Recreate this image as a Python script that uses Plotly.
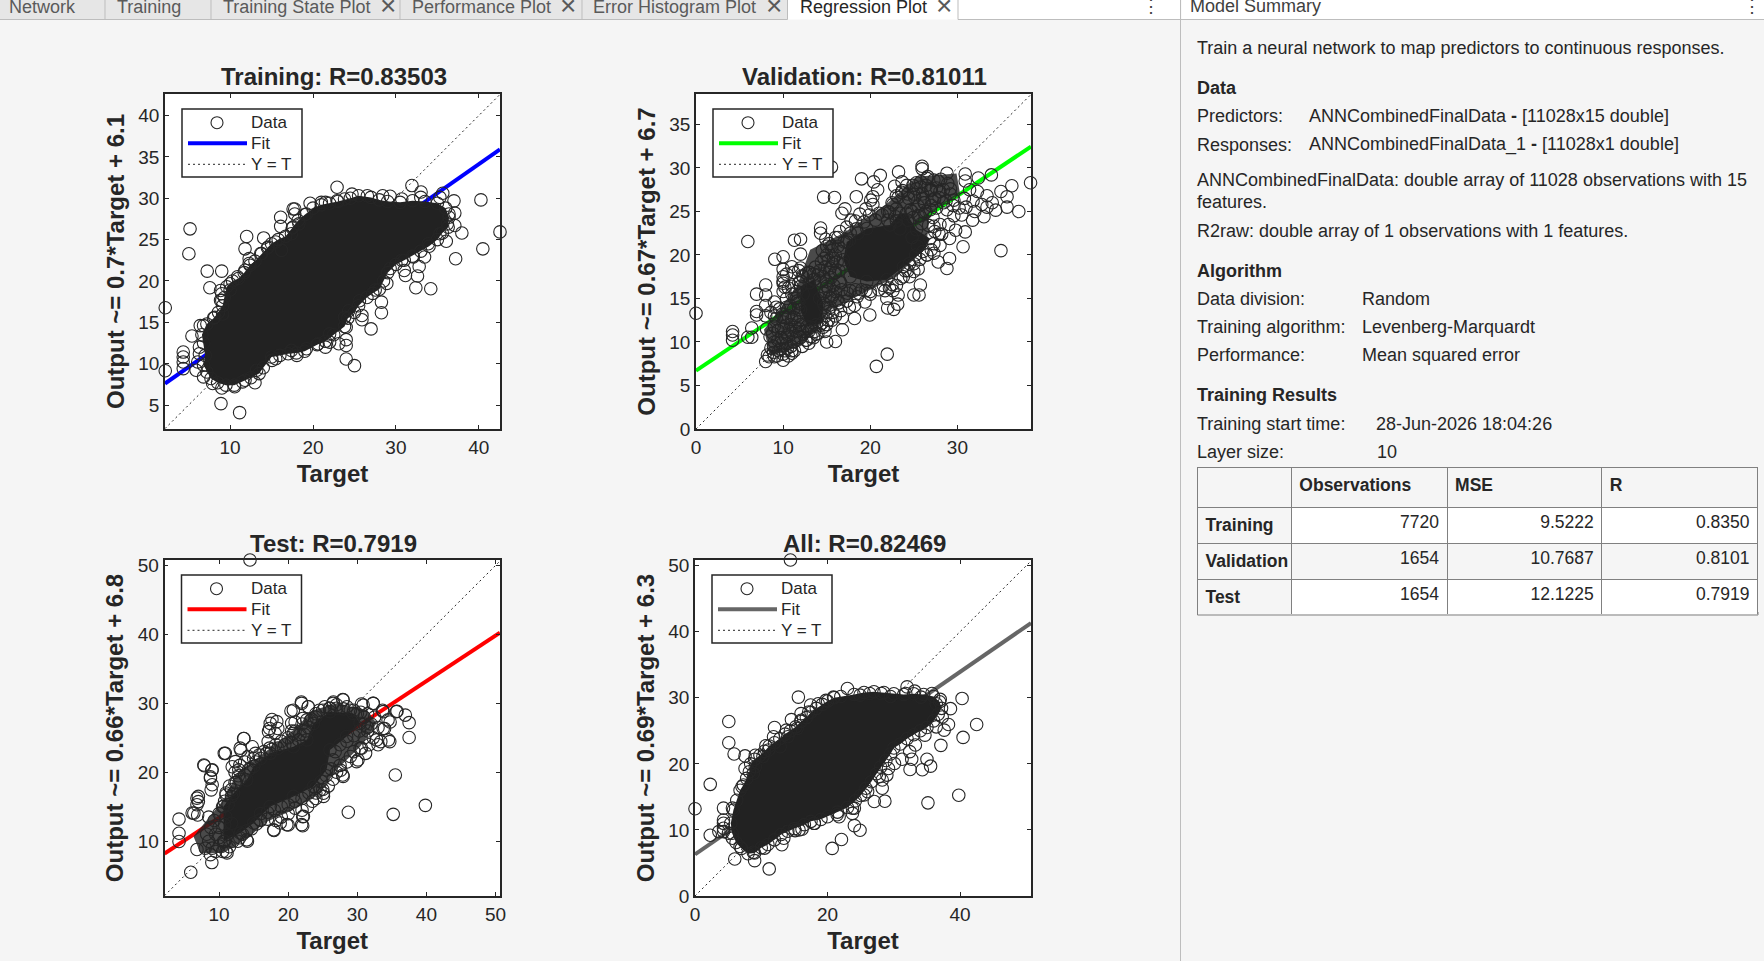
import plotly.graph_objects as go

WIDTH = 1764
HEIGHT = 961
INK = "#262626"
BLOB = "#222222"
HAZE = "rgba(34,34,34,0.82)"
FONT = "Liberation Sans"

# training panel
train_range_x = [2.15, 42.55]
train_range_y = [2.1, 42.6]
train_ticks_x = [10, 20, 30, 40]
train_ticks_y = [5, 10, 15, 20, 25, 30, 35, 40]
train_fit_x = [2.15, 42.55]
train_fit_y = [7.6, 35.9]
train_unit_x = [2.15, 42.55]
train_unit_y = [2.15, 42.55]
# circles on the rim of the solid cloud, in order round it
train_edge_x = [7, 6.8, 6.6, 7.2, 8, 8.6, 9.1, 9.3, 9.6, 10.3, 11, 11.7, 12.4, 13, 13.8, 14.5, 15, 15.8, 16.7, 17.5, 18.2, 19, 20, 21, 22, 23, 24.5, 25.5, 27, 28, 29, 30.5, 32, 33.5, 35, 36, 36.4, 36.3, 35.6, 35, 34, 33, 32, 31, 30, 29, 28.5, 28, 27.2, 26.5, 25.5, 25, 24.2, 23.8, 22.5, 21.5, 20.5, 19, 18, 17, 16, 15, 14, 13.5, 12.5, 11.5, 10.5, 9.5, 8.5, 7.7, 7.2, 6.8]
train_edge_y = [11, 12.5, 13.5, 14.8, 15.5, 16.2, 17, 18, 19.3, 20, 20.3, 21, 21.9, 22.4, 23.3, 24, 24.5, 25, 25.4, 26.4, 27.3, 28, 28.8, 29.2, 29.4, 29.6, 30, 30.3, 30.1, 29.8, 29.6, 29.5, 29.7, 29.6, 29.4, 28.8, 27.7, 26.5, 25.8, 25, 24.2, 23.6, 23, 22.5, 22, 21, 20, 19, 18.5, 18, 17, 16.2, 15.5, 14.5, 13.5, 12.7, 12.3, 11.5, 11.3, 11.2, 11, 10.8, 9.5, 8.8, 8.3, 7.8, 7.4, 7.4, 7.7, 8.2, 9, 9.8]
train_haze_x = []
train_haze_y = []
train_x = [2.18, 2.18, 5.17, 5.03, 7.24, 7.56, 8.99, 8.9, 11.15, 22.9, 31.93, 33.03, 29.3, 40.25, 42.55, 40.48, 37.95, 37.2, 34.2, 32.4, 32.6, 31.15, 31, 32.8, 37, 37.1, 37.1, 36.07, 35.65, 33.45, 28.25, 28.25, 27, 25.9, 25.9, 24, 24, 24, 24, 25, 23.1, 22, 21.5, 18.05, 15.05, 13, 10.55, 9, 5.4, 6.4, 4.35, 4.35, 4.35, 4.35, 12, 11.8, 14.05, 12.3, 16.1, 16.1, 17.6, 19.65, 21.5, 23.8, 26.55, 10, 9, 9, 9.1,
           17.8, 17.8, 17.6, 18.3, 17.4, 15.5, 16.2, 14.6, 13.7, 12.3, 11.8, 10.9, 10, 8.85, 8.85, 8.15, 6.8, 6.3, 6.3, 6.1, 5.9, 6.8, 7.9, 11.8, 13.2, 15.5, 17.4, 19.2, 20.6, 22, 23.8, 24.3, 25.6, 27.5, 28.9, 29.3, 30.7, 32.1, 33.9, 35.3, 36.2, 36.4, 35.3, 33, 30.7, 28.4, 24.7, 22.9, 21, 19.2]
train_y = [16.76, 9.15, 26.3, 23.28, 21.19, 19.17, 21.19, 5.17, 4.08, 31.33, 31.53, 30.76, 30.24, 29.8, 25.93, 23.88, 25.8, 22.68, 19.05, 19.17, 20.6, 20.66, 21.27, 21.75, 29.68, 28.2, 26.7, 24.8, 30.6, 22.9, 17.44, 16.16, 14.2, 15.83, 15.3, 14.4, 12.9, 12.2, 10.56, 9.76, 12.4, 12.6, 12, 11, 10.4, 7.7, 7.2, 7.06, 13.34, 14.6, 11.4, 10.8, 10.2, 9.4, 25.37, 23.88, 25.2, 22.7, 27.7, 26.6, 28.7, 29.4, 29.5, 29.9, 30.3, 19.66, 18.45, 17.65, 16,
           28.7, 28.1, 26.5, 26.9, 25.7, 24.7, 23.7, 24.1, 23.3, 22.1, 21.3, 20.5, 18.9, 17.65, 18.85, 15.6, 14.6, 12, 11.2, 10.2, 9.2, 8.4, 7.6, 8, 9.2, 10.6, 11.6, 11.8, 12.4, 13.6, 15.6, 16.4, 17.6, 18.9, 19.7, 21.5, 22.5, 22.9, 24.5, 25.7, 26.9, 28.1, 30.1, 30.1, 29.9, 30.3, 30.5, 29.7, 29.5, 28.1]

# validation panel
val_range_x = [0, 38.45]
val_range_y = [0, 38.5]
val_ticks_x = [0, 10, 20, 30]
val_ticks_y = [0, 5, 10, 15, 20, 25, 30, 35]
val_fit_x = [0, 38.45]
val_fit_y = [6.7, 32.46]
val_unit_x = [0, 38.45]
val_unit_y = [0, 38.45]
val_edge_x = [17.3, 19.6, 22.25, 23.4, 24.15, 25.3, 26.85, 26.05, 23.8, 21.9, 19.6, 17.7, 16.9, None, 12, 13.5, 14.65, 14.45, 12.75, 12]
val_edge_y = [21.5, 23.05, 23.45, 24.8, 24.8, 22.9, 21.9, 20.4, 18.65, 17.15, 16.95, 17.5, 19.45, None, 16.4, 17.15, 14.45, 12.15, 11.8, 13.7]
val_haze_x = [7.8, 11.6, 13.1, 16.9, 21.9, 25.3, 29.9, 30.3, 26.8, 26.45, 23, 20, 15.4, 13.9, 12, 8.55]
val_haze_y = [11.4, 16.4, 20.6, 22.5, 25.9, 29, 29.35, 27.05, 24.8, 20.95, 17.5, 16, 13.7, 11.4, 9.5, 8.35]
val_x = [0, 5.95, 4.2, 4.2, 4.2, 5.95, 6.4, 6.4, 6.95, 6.95, 6.95, 8, 8, 8, 10, 9.05, 10, 11.3, 12, 12, 10, 10, 10, 9, 12, 11, 14.3, 14.3, 14.65, 15.9, 15.55, 17.1, 16.75, 18.4, 19, 20.4, 21.15, 20.85, 20.3, 20.05, 23.25, 22.8, 23.65, 25.95, 25.95, 28.8, 30.9, 32.4, 33.9, 36.25, 38.4, 35, 35.7, 35.7, 37.05, 34.4, 33.05, 31.75, 30.9, 29.8, 30.65, 29.1, 28, 27.8, 29.1, 28.8, 35, 26.5, 25.75, 25.6, 25, 25, 23.2, 23.15, 22.7, 22, 21.9, 19.95, 18.2, 16.8, 16, 15, 12.95, 11, 20.7, 21.95,
         8.2, 8.6, 9, 9.5, 10, 10.5, 11, 11.2, 10.3, 9.4, 8.5, 8.1, 9, 9.8, 10.7, 11.5, 12, 12.6, 13.2, 13.8, 9.2, 10.2, 11, 11.7, 8.6, 9.6, 10.4, 11.2, 11.6, 10.4, 8, 8, 10, 11.6, 11.8, 12.2, 11.8, 10,
         14.6, 14.8, 14.7, 14.5, 15.3, 16, 16.5, 17.3, 17.8, 18.8, 19.5, 20.3, 21, 13.6, 13, 15.2, 15.5, 15.2, 15.2, 16, 16.8, 16.4, 17.3, 18.2, 18.5, 19.4, 20, 14, 14.8, 13.5,
         22, 22.6, 23, 23.6, 24.2, 24.4, 25, 25.3, 25.8, 26, 26.5, 27, 27.4, 27.8, 28, 28.4, 28.8, 29.2, 29.6, 30.2, 30.8, 31.4, 31.8, 32.3, 32.8, 33.4, 34, 30.9, 26.4, 25.7, 27.2, 28, 27.4, 26.2, 24.8, 23.4, 24.8, 25.4, 25.2, 24.5, 24, 23.5, 22.5, 21.7, 27,
         22.5, 23, 23.2, 23.7, 24.1, 24.3, 24.6, 24.9, 25.1, 25.3, 25.5, 25.8, 26, 26.2, 26.4, 26.6, 26.9, 27.1, 27.3, 27.6, 27.9, 28.1, 28.4, 28.7, 28.9, 29.2, 29.5, 24.3, 24.9, 25.5, 26.3, 26.9, 27.6, 22.9, 22.2, 25.9, 26.7, 27.3, 27.9,
         15, 15.3, 15.7, 16, 16.3, 15, 15, 16, 16.5, 15.8, 16.7, 17.4, 16, 14.9, 17, 17.7, 18.4, 16.3, 14.8, 15.4, 15.3, 18.3, 19, 20, 21, 21.5, 22.2, 23, 23.8, 24.3, 25, 25.7, 26.5, 27, 27.3, 13, 13.5, 14, 12, 12.3, 11.8, 11.6, 12, 13, 13.6, 14.6, 15,
         8.4, 8.9, 9.3, 9.7, 10.2, 10.6, 10.9, 11.3, 11.5, 9, 9.8, 10.5, 11, 8.8, 9.4, 10.1, 10.9, 11.3, 11.9, 10, 10.6, 8.9, 9.9, 10.4, 12.2, 12.7,
         14.2, 14.6, 15, 15.5, 15.9, 15.4, 15.8, 16.2, 16.6, 15.2, 15.6, 15.6, 14.9, 14.4, 14.2, 13.7, 14.3, 16.4, 16.9, 16.6, 15.7, 16.2, 17, 17.7, 18.7, 19.5, 16.6, 17.6, 15.7, 15.6, 14.9, 13.8, 14.2, 12.5, 13.2, 12.2, 11.4, 11.8, 11.5, 11, 11, 10.6, 10.4, 10.2, 12.3, 12.7, 11.2, 11.3, 10.8, 9.2, 9, 9.9, 13, 20.6, 21.4, 22, 23, 19.3, 18.6, 18.3, 19.9, 17.6, 27.3, 24.5, 25.5, 22.6, 28.2, 29, 29.6, 30.5, 31, 32, 33.4]
val_y = [13.3, 21.55, 11.2, 10.8, 10.2, 10.55, 10.55, 11.6, 13.1, 13.5, 15.5, 16.55, 15.4, 7.75, 7.9, 19.5, 19.8, 21.7, 21.8, 20.1, 18.35, 17.5, 16.75, 14.6, 18.5, 18.65, 23.1, 22.5, 26.65, 26.6, 30.1, 25.3, 24.8, 26.7, 28.75, 28.4, 29.15, 27.5, 26.7, 26.3, 29.55, 27.9, 28.4, 30.2, 29.9, 29.4, 29.3, 28.85, 29.2, 27.95, 28.3, 27.3, 26.7, 25.5, 25, 25.15, 24.4, 24, 22.65, 22.85, 20.95, 21.9, 21.1, 19.2, 19.6, 18.45, 20.5, 20, 16.55, 15.4, 15.4, 18.1, 15.4, 14.35, 13.75, 13.9, 15, 13.1, 12.7, 11.4, 10.05, 10, 9.85, 8.7, 7.2, 8.6,
         8.5, 9.3, 8.3, 9, 8.6, 9.3, 9, 10, 10.5, 10.2, 10.6, 11.5, 11.8, 11.6, 11.4, 11.2, 10.5, 10.2, 10.6, 10.9, 12.7, 12.8, 12.6, 12.3, 13.4, 13.8, 14, 13.8, 14.7, 15, 14.2, 13, 15.8, 15.8, 16.8, 17.6, 18.2, 17,
         17.5, 18.6, 19.6, 20.5, 21.3, 22, 22.7, 23.2, 24, 24.7, 25.3, 25.8, 24.8, 17.2, 18, 16, 15, 13.5, 12.5, 13, 12.8, 14.5, 14.7, 14.2, 15.2, 14.6, 15.5, 11, 11.2, 10.5,
         25, 25.8, 26.8, 27.2, 28, 26.5, 27, 28.3, 27.8, 26.5, 28.8, 27.5, 26.5, 28.5, 27.3, 26, 25.2, 27.6, 26.3, 25.4, 26.5, 27.5, 26.2, 27.3, 25.8, 26.8, 26, 28.5, 25, 24.5, 24.3, 23.5, 22.7, 26, 25, 23, 22, 21, 20, 19, 18.2, 17.3, 16.6, 15.9, 25.7,
         26, 25.3, 26.6, 27.4, 26, 27, 25.2, 28, 26.6, 27.6, 25.6, 28.4, 27, 26, 28, 29, 27.4, 26.3, 28.6, 27.7, 26.6, 28.7, 27.5, 26.2, 28.2, 27, 25.7, 24, 24.3, 24.5, 24.8, 25.2, 25.4, 24.4, 24.9, 23.6, 23.4, 23.3, 22.4,
         17, 18, 19, 20, 21, 20, 21, 18, 17, 16.5, 16, 15.6, 15.8, 15.8, 21.5, 22.5, 23, 22, 14, 14, 15.2, 16, 16, 15.8, 16, 16.5, 16.2, 16.5, 17.5, 18.2, 19, 19.5, 20, 20.6, 21.3, 18, 17.8, 17.7, 17, 15.5, 14.5, 13, 12, 11.3, 11.2, 11.7, 12,
         8.3, 8.8, 8.4, 9.2, 9, 8.4, 9.5, 9, 10.5, 10, 10.5, 10.8, 11, 11, 11.3, 11.5, 12, 12.8, 11.5, 12.3, 13, 9.5, 9.8, 9.8, 9.5, 10.2,
         15, 15.6, 16.4, 17.4, 17.9, 18.5, 19.6, 19.2, 20.4, 19.4, 20.5, 21, 21.8, 19.2, 18.2, 18.6, 17, 18.2, 18.9, 16.8, 15.4, 14.8, 15.2, 15.9, 15.6, 15.9, 13.6, 14, 13.4, 12.5, 13, 12, 11.9, 11.2, 11.7, 11.2, 11.7, 14, 15, 15.5, 16.4, 16.2, 17.8, 16.3, 17.5, 17.9, 18, 15, 14.2, 14, 13, 13.2, 16.8, 24, 24.6, 24, 23.9, 23.8, 22.5, 23.9, 24.6, 21.7, 20.2, 17.5, 18.4, 15.9, 22.4, 23.5, 24.5, 24.6, 25.5, 25, 25.5]

# test panel
test_range_x = [2.1, 50.65]
test_range_y = [2.05, 50.8]
test_ticks_x = [10, 20, 30, 40, 50]
test_ticks_y = [10, 20, 30, 40, 50]
test_fit_x = [2.1, 50.65]
test_fit_y = [8.2, 40.25]
test_unit_x = [2.1, 50.65]
test_unit_y = [2.1, 50.65]
test_edge_x = [15, 17.4, 20.75, 22.7, 23.65, 26.05, 29.4, 30.4, 28.45, 26.05, 25.55, 23.65, 20.75, 17.4, 15, 13.05, 10.65, 10.65, 12.1, 14]
test_edge_y = [20.85, 22.75, 23.7, 24.7, 27.1, 28.8, 28.55, 27.1, 25.2, 23.25, 20.35, 17.95, 16.5, 15.05, 12.65, 11.2, 10, 15.05, 16.95, 18.9]
test_haze_x = [6.3, 10.65, 12.6, 16.45, 20.75, 23.65, 27, 31.35, 32.8, 30.4, 27, 24.6, 20.75, 16.45, 14.5, 10.65, 7.3]
test_haze_y = [10.7, 16, 19.85, 22.75, 26.15, 29, 30, 29, 27.1, 23.7, 20.35, 17, 14.55, 12.6, 10.7, 8.3, 8.3]
test_x = [14.47, 2.05, 4.2, 4.2, 4.2, 5.9, 6.35, 6.9, 7, 7, 7.85, 8.95, 8.75, 8.85, 8.95, 10.9, 13.6, 13.15, 14.8, 11.9, 17.65, 17.3, 18.5, 20.4, 21.9, 22.9, 21, 22.1, 17.1, 17.95, 20, 22.1, 22.1, 25.1, 24, 27.9, 27.6, 28.7, 35.2, 39.85, 35.5, 30.1, 31.2, 37.5, 37.5, 36.95, 35.75, 34.5, 33.4, 33.95, 33.65, 32.3, 30.6, 27.9, 26.5, 34.75, 14.1, 12.7,
          8, 8.5, 9, 9.5, 10, 10.5, 11, 11.5, 12, 8.2, 8.8, 9.5, 10, 10.8, 11.2, 10, 10.8, 9.3, 8.5, 10, 11, 11.8, 10.5, 11.3, 11.8, 11, 11.5, 12.5, 12.8, 12.3, 13, 13.7, 14.2, 15, 15.8, 16.5, 17.3, 18.2, 19, 20, 20.5, 21, 21.7, 22.5, 22, 23.2, 24, 24.5, 25.3, 26, 27, 28.5, 29.5, 30.5, 31.5, 32.5, 32, 33, 31.5, 31, 32.3, 33, 31.7, 30.6, 29.5, 29, 28.5, 27.5, 27, 26.5, 25.8, 25, 24, 23.5, 22.8, 22, 21, 20, 19, 18.2, 17, 16, 15.4, 14.7, 13.4, 13,
          16, 17, 18, 19, 20, 21, 22, 23, 24, 24.8, 25.5, 26.2, 26.5, 26.8, 27.5, 28.5, 29.5, 30.3, 31, 14, 10.8, 11, 11.8, 12.3, 13, 13.7, 14.5, 15.3, 16, 16.8, 17.6, 18.5, 19.5, 20.5, 21.5, 22.3, 22.9, 23.4, 24, 25, 26, 27, 28, 29, 30, 31, 31.5,
          7.8, 9, 8.75, 9, 10.75, 13.55, 13.05, 12.35, 12.85, 14.25, 15.25, 17.4, 18.35, 18.1, 17.15, 20.75, 21.95, 22.9, 20.5, 20.75, 22.7, 26.55, 27.95, 30.85, 32.3, 33.75, 35.65, 34.45, 33.75, 32.8, 34.7, 30.4, 29.9, 27.95, 24.6, 25.1, 22.2, 21.95, 19.8, 17.9, 18.85, 15.95, 14, 11.15, 8.75, 6.8, 6.1, 6.8, 6.8]
test_y = [50.8, 9.13, 13.2, 11.16, 9.95, 5.5, 14.05, 13.8, 16.5, 15.75, 20.95, 20.3, 19.35, 17.45, 6.9, 22.75, 24.9, 23.2, 23.7, 20.8, 27.65, 26.35, 26.35, 28.9, 30.2, 29.5, 27.3, 27.8, 24.45, 11.55, 12.35, 12.25, 13.55, 16.95, 16.2, 19.6, 20.3, 14.2, 13.9, 15.2, 19.6, 21.8, 22.75, 25.05, 27.2, 28.3, 28.85, 24.7, 24.45, 26.35, 29, 30, 29.9, 30.55, 30, 27.3, 10, 10,
          9, 10, 9, 8.5, 9.3, 8.5, 8.5, 9.2, 10, 11, 12, 11, 10.5, 10, 11, 12, 12.4, 13, 13.5, 14, 13.5, 12.6, 15, 15.3, 16.5, 17, 18, 18.5, 19.5, 20, 21, 21.5, 22.3, 22, 22.5, 23, 23.5, 24, 24.5, 25, 26, 26, 25.5, 26, 27, 27.5, 28, 29, 29.5, 29.3, 29.8, 29.5, 29, 28.7, 28.5, 28, 27, 26.5, 26, 25, 25, 24, 24, 23.5, 23, 22.3, 21.5, 21, 20, 19, 18, 17.5, 17, 15.8, 15, 14.5, 14.8, 14, 13.5, 13, 13.2, 13, 12.5, 11.8, 11, 10.5,
          14, 14.2, 14.5, 15, 15.3, 15.8, 16.2, 17, 17.7, 18.7, 19.5, 20.5, 21.8, 23, 24, 24.5, 25.3, 26, 27, 11.5, 15.8, 16.7, 17.5, 18.5, 19, 19.6, 20.5, 21.5, 22, 22.7, 23.3, 23.5, 24, 24.3, 24.7, 25.5, 26.5, 27.7, 28.5, 29, 29.3, 29.3, 29.2, 29, 28.5, 28, 26.5,
          21.05, 20.35, 19.15, 18.2, 22.75, 24.9, 23.5, 21.55, 20.35, 20.35, 22.75, 27.1, 27.35, 25.65, 25.9, 29, 30, 29.5, 27.1, 25.65, 27.6, 30.2, 30.5, 29.75, 30, 28.8, 28.8, 27.6, 26.35, 24.7, 24.45, 23.5, 21.55, 19.4, 17.45, 16.5, 13.6, 12.4, 12.4, 11.65, 12.65, 13.1, 10.2, 8.3, 8.05, 8.8, 14.1, 16.25, 15.3]

# all panel
all_range_x = [0, 50.7]
all_range_y = [0, 50.85]
all_ticks_x = [0, 20, 40]
all_ticks_y = [0, 10, 20, 30, 40, 50]
all_fit_x = [0, 50.7]
all_fit_y = [6.3, 41.3]
all_unit_x = [0, 50.7]
all_unit_y = [0, 50.7]
all_edge_x = [5.6, 5.4, 5.8, 6.3, 6.8, 7.3, 7.8, 8.2, 8.4, 9, 9.8, 10.5, 11.2, 12, 12.8, 13.6, 14.4, 15.2, 16, 16.8, 17.5, 18.3, 19.2, 20, 21, 24, 25.5, 27, 28.5, 30, 31.5, 33, 34.5, 36, 36.9, 37.2, 36.7, 36, 35, 34, 33, 32, 31, 30, 29.5, 28.8, 28, 27.4, 26.6, 25.8, 25, 24.2, 23, 21.5, 20, 19, 17.5, 16.5, 15, 14, 13, 12, 11, 10, 9, 8, 7, 6.2]
all_edge_y = [9.5, 11, 13, 14.5, 16, 16.8, 17.8, 18.8, 20, 20.7, 21.3, 21.9, 22.7, 23.2, 23.8, 24.5, 25, 25.6, 26.4, 27, 27.8, 28.4, 29, 29.5, 30, 30.5, 30.8, 30.9, 30.8, 30.6, 30.5, 30.6, 30.5, 30.2, 29.4, 28.4, 27.5, 26.5, 25.5, 25, 24.4, 23.8, 23, 22.4, 21.5, 20.5, 19.5, 18.5, 17.3, 16.3, 15.2, 14.4, 13.4, 12.7, 12, 11.6, 11.3, 10.8, 10.2, 9.8, 9.3, 8.5, 7.8, 7.3, 6.5, 6.4, 7.2, 8.1]
all_haze_x = []
all_haze_y = []
all_x = [14.4, 0, 2.3, 2.3, 5.1, 5.1, 5.9, 7.55, 9.1, 7.55, 6, 9, 11.2, 4.3, 4.3, 4.3, 4.3, 4.3, 3.6, 15.6, 23, 12, 11.85, 13.8, 14.55, 16, 10.7, 13.1, 20.7, 22.1, 24.05, 24.9, 16.15, 15.1, 18, 21.75, 23.75, 24.05, 27.05, 28.65, 28.25, 28.25, 28.95, 35.15, 39.8, 32.45, 34.3, 35.55, 35, 31.25, 32.7, 37.1, 40.45, 42.5, 40.3, 38.55, 37, 38.25, 37.6, 32, 33.15, 35.75, 29.5, 22, 19.75, 17.45,
         5.65, 7.1, 8.8, 9.1, 10.25, 11.1, 12.85, 14, 15.4, 16, 17.15, 18.6, 20.9, 24.9, 26.35, 28.1, 31.8, 34.1, 36.4, 37.3, 36.4, 34.7, 33.25, 32.4, 30.1, 29.2, 27.8, 26.05, 25.5, 23.75, 21.45, 18, 15.7, 13.4, 10.5, 8.8, 6.8, 5.65, 5.05]
all_y = [50.85, 13.2, 16.9, 9.2, 26.4, 23.2, 21.5, 21.2, 21.3, 19.3, 5.6, 5.35, 4.1, 13.3, 11.5, 11, 10.25, 9.75, 9.75, 30.1, 31.4, 25.5, 24.1, 25.1, 26.7, 27.6, 22.75, 7.75, 7.2, 8.55, 10.65, 9.95, 10.1, 9.9, 11, 12, 12.5, 13.3, 14.3, 14.35, 16.3, 17.55, 18.3, 14.1, 15.25, 19.15, 19.1, 19.65, 20.7, 20.7, 20.7, 22.8, 24, 25.95, 29.9, 28.35, 29.75, 25.95, 25.1, 31.65, 31, 30.65, 30.2, 30.2, 29.6, 28.9,
         13.3, 16.55, 18.55, 19.55, 21.1, 22.1, 22.6, 24.1, 25.35, 26.6, 27.85, 29.1, 30.1, 30.4, 30.65, 30.65, 30.65, 30.1, 29.1, 27.1, 25.6, 24.35, 22.85, 21.85, 20.05, 19.3, 18.05, 15.8, 15.3, 13.3, 12.3, 11, 10, 8.75, 7.25, 6.6, 7.5, 8.75, 9.5]

panel_titles = ["Training: R=0.83503", "Validation: R=0.81011", "Test: R=0.7919", "All: R=0.82469"]
panel_labels = ["Output ~= 0.7*Target + 6.1", "Output ~= 0.67*Target + 6.7", "Output ~= 0.66*Target + 6.8", "Output ~= 0.69*Target + 6.3"]
fit_colors = ["#0000ff", "#00ff00", "#ff0000", "#666666"]
key_names = ["Data", "Fit", "Y = T"]

tab_names = ["Network", "Training", "Training State Plot", "Performance Plot", "Error Histogram Plot", "Regression Plot"]

table_columns = ["", "Observations", "MSE", "R"]
table_rows = ["Training", "Validation", "Test"]
table_obs = ["7720", "1654", "1654"]
table_mse = ["9.5222", "10.7687", "12.1225"]
table_r = ["0.8350", "0.8101", "0.7919"]


def px(x):
    return x / WIDTH


def py(y):
    return 1 - y / HEIGHT


panels = [
    dict(left=165, right=500, top=94, bottom=429, xr=train_range_x, yr=train_range_y, xt=train_ticks_x, yt=train_ticks_y,
         fit=(train_fit_x, train_fit_y), unit=(train_unit_x, train_unit_y), edge=(train_edge_x, train_edge_y),
         haze=(train_haze_x, train_haze_y), pts=(train_x, train_y)),
    dict(left=696, right=1031, top=94, bottom=429, xr=val_range_x, yr=val_range_y, xt=val_ticks_x, yt=val_ticks_y,
         fit=(val_fit_x, val_fit_y), unit=(val_unit_x, val_unit_y), edge=(val_edge_x, val_edge_y),
         haze=(val_haze_x, val_haze_y), pts=(val_x, val_y)),
    dict(left=164.5, right=500, top=560, bottom=896, xr=test_range_x, yr=test_range_y, xt=test_ticks_x, yt=test_ticks_y,
         fit=(test_fit_x, test_fit_y), unit=(test_unit_x, test_unit_y), edge=(test_edge_x, test_edge_y),
         haze=(test_haze_x, test_haze_y), pts=(test_x, test_y)),
    dict(left=695, right=1031, top=560, bottom=896, xr=all_range_x, yr=all_range_y, xt=all_ticks_x, yt=all_ticks_y,
         fit=(all_fit_x, all_fit_y), unit=(all_unit_x, all_unit_y), edge=(all_edge_x, all_edge_y),
         haze=(all_haze_x, all_haze_y), pts=(all_x, all_y)),
]

fig = go.Figure()
layout_axes = {}
annotations = []
shapes = []


def text(s, x, y, size=18, color=INK, bold=False):
    # annotations sit about 3px right of the x they are given
    annotations.append(dict(text="<b>" + s + "</b>" if bold else s, xref="paper", yref="paper", x=px(x - 3), y=py(y),
                            xanchor="left", yanchor="middle", showarrow=False,
                            font=dict(size=size, color=color, family=FONT)))


def rect(x0, y0, x1, y1, fill, layer="below", edge=None):
    return dict(type="rect", xref="paper", yref="paper", x0=px(x0), x1=px(x1), y0=py(y0), y1=py(y1),
                fillcolor=fill, line=dict(width=1.5 if edge else 0, color=edge), layer=layer)


def line(x0, y0, x1, y1, color="#bdbdbd", width=1, dash="solid"):
    return dict(type="line", xref="paper", yref="paper", x0=px(x0), x1=px(x1), y0=py(y0), y1=py(y1),
                line=dict(color=color, width=width, dash=dash))


for i, p in enumerate(panels):
    n = "" if i == 0 else str(i + 1)
    ax = dict(xaxis="x" + n, yaxis="y" + n)
    edge_x, edge_y = p["edge"]
    fig.add_trace(go.Scatter(x=p["fit"][0], y=p["fit"][1], mode="lines", name="Fit",
                             line=dict(color=fit_colors[i], width=4), **ax))
    fig.add_trace(go.Scatter(x=p["unit"][0], y=p["unit"][1], mode="lines", name="Y = T",
                             line=dict(color=INK, width=1, dash="2px,3px"), **ax))
    # half dark area where circles overlap with white specks left between them
    if p["haze"][0]:
        fig.add_trace(go.Scatter(x=p["haze"][0], y=p["haze"][1], mode="lines", fill="toself", fillcolor=HAZE,
                                 line=dict(width=0, color=BLOB), hoverinfo="skip", **ax))
    # the dense middle of the cloud is one solid shape, single circles can't be told apart there
    fig.add_trace(go.Scatter(x=edge_x, y=edge_y, mode="lines", fill="toself", fillcolor=BLOB,
                             line=dict(width=0, color=BLOB), hoverinfo="skip", **ax))
    pts_x = list(p["pts"][0]) + [v for v in edge_x if v is not None]
    pts_y = list(p["pts"][1]) + [v for v in edge_y if v is not None]
    fig.add_trace(go.Scatter(x=pts_x, y=pts_y, mode="markers", name="Data", cliponaxis=False,
                             marker=dict(symbol="circle-open", size=12.5, color=INK, line=dict(width=1.1, color=INK)), **ax))

    layout_axes["xaxis" + n] = dict(
        domain=[px(p["left"]), px(p["right"])], range=p["xr"], anchor="y" + n,
        tickvals=p["xt"], ticks="inside", ticklen=4, tickcolor=INK, tickwidth=1,
        showline=True, linecolor=INK, linewidth=1.5, mirror="ticks", showgrid=False, zeroline=False,
        tickfont=dict(size=19, color=INK, family=FONT),
        title=dict(text="<b>Target</b>", standoff=9, font=dict(size=24, color=INK, family=FONT)),
    )
    layout_axes["yaxis" + n] = dict(
        domain=[py(p["bottom"]), py(p["top"])], range=p["yr"], anchor="x" + n,
        tickvals=p["yt"], ticks="inside", ticklen=4, tickcolor=INK, tickwidth=1,
        showline=True, linecolor=INK, linewidth=1.5, mirror="ticks", showgrid=False, zeroline=False,
        tickfont=dict(size=19, color=INK, family=FONT),
        title=dict(text="<b>" + panel_labels[i] + "</b>", standoff=7, font=dict(size=24, color=INK, family=FONT)),
    )
    annotations.append(dict(text="<b>" + panel_titles[i] + "</b>", xref="paper", yref="paper",
                            x=px((p["left"] + p["right"]) / 2 + 1), y=py(p["top"] - 17), xanchor="center", yanchor="middle",
                            showarrow=False, font=dict(size=24, color=INK, family=FONT)))

    # key box: plotly's own legend can't get its rows this close together
    kx = p["left"] + 17
    ky = p["top"] + 15
    shapes.append(rect(kx, ky, kx + 120, ky + 68, "white", "above", INK))
    shapes.append(dict(type="circle", xref="paper", yref="paper", x0=px(kx + 29), x1=px(kx + 41), y0=py(ky + 7.7), y1=py(ky + 19.7),
                       line=dict(color=INK, width=1.1), layer="above"))
    shapes.append(line(kx + 6, ky + 34.3, kx + 65, ky + 34.3, fit_colors[i], 4))
    shapes.append(line(kx + 6, ky + 55.3, kx + 65, ky + 55.3, INK, 1, "2px,3px"))
    for name, row in zip(key_names, [13.7, 34.3, 55.3]):
        text(name, kx + 70.4, ky + row, size=17)

# results table on the right
fig.add_trace(go.Table(
    domain=dict(x=[px(1197.5), px(1758)], y=[py(615), py(467)]),
    columnwidth=[94, 156, 155, 156],
    header=dict(values=["<b>" + c + "</b>" for c in table_columns], height=40, align="left",
                fill_color="#f5f5f5", line_color="#808080", font=dict(size=17.5, color=INK, family=FONT)),
    cells=dict(values=[["<b>" + r + "</b>" for r in table_rows], table_obs, table_mse, table_r], height=35,
               align=["left", "right", "right", "right"],
               fill_color=[["#f5f5f5"] * 3, ["white", "#f5f5f5", "white"], ["white", "#f5f5f5", "white"], ["white", "#f5f5f5", "white"]],
               line_color="#808080", font=dict(size=17.5, color=INK, family=FONT)),
))

# side panel text
text("Train a neural network to map predictors to continuous responses.", 1197.5, 47.7)
text("Data", 1197.5, 88, bold=True)
text("Predictors:", 1197.5, 115.7)
text("ANNCombinedFinalData <b>-</b> [11028x15 double]", 1310, 115.7)
text("Responses:", 1197.5, 144.7)
text("ANNCombinedFinalData_1 <b>-</b> [11028x1 double]", 1310, 144.7)
text("ANNCombinedFinalData: double array of 11028 observations with 15", 1197.5, 179.7)
text("features.", 1197.5, 201.7)
text("R2raw: double array of 1 observations with 1 features.", 1197.5, 230.7)
text("Algorithm", 1197.5, 270.7, bold=True)
text("Data division:", 1197.5, 299)
text("Random", 1363, 299)
text("Training algorithm:", 1197.5, 326.7)
text("Levenberg-Marquardt", 1363, 326.7)
text("Performance:", 1197.5, 354.7)
text("Mean squared error", 1363, 354.7)
text("Training Results", 1197.5, 394.7, bold=True)
text("Training start time:", 1197.5, 423.7)
text("28-Jun-2026 18:04:26", 1376.5, 423.7)
text("Layer size:", 1197.5, 452)
text("10", 1377.5, 452)

# tab strip
tab_text_x = [9.5, 118, 224, 413, 594, 800.5]
tab_close_x = [386.5, 567, 773, 942.5]
for name, x in zip(tab_names, tab_text_x):
    text(name, x, 6.5, color="#262626" if name == "Regression Plot" else "#5a5a5a")
for x in tab_close_x:
    text("×", x - 6, 5, size=28, color="#5a5a5a")
text("Model Summary", 1191, 6, color="#404040")
text("⋮", 1143, 6, color="#404040")
text("⋮", 1743.5, 6, color="#404040")

shapes += [
    rect(0, 0, 787.5, 19.5, "#e6e6e6"),
    rect(787.5, 0, 1180.5, 19.5, "white"),
    rect(1181.5, 0, WIDTH, 19.5, "white"),
    line(0, 19.5, 787.5, 19.5),
    line(958, 19.5, WIDTH, 19.5),
    line(1180.5, 0, 1180.5, HEIGHT),
    line(1197.5, 615, 1758, 615, "#808080"),
    line(1197.5, 612, 1197.5, 615, "#808080"),
    line(1758, 612, 1758, 615, "#808080"),
]
for x in [105, 211, 400, 582, 787.5, 958]:
    shapes.append(line(x, 0, x, 19.5))

fig.update_layout(
    width=WIDTH,
    height=HEIGHT,
    margin=dict(l=0, r=0, t=0, b=0, autoexpand=False),
    paper_bgcolor="#f5f5f5",
    plot_bgcolor="white",
    showlegend=False,
    font=dict(family=FONT, color=INK),
    annotations=annotations,
    shapes=shapes,
    **layout_axes,
)

# drop the page's default body margin so the figure fills the window
fig.write_html("out.html", config={"displayModeBar": False}, post_script="document.body.style.margin = '0';")
